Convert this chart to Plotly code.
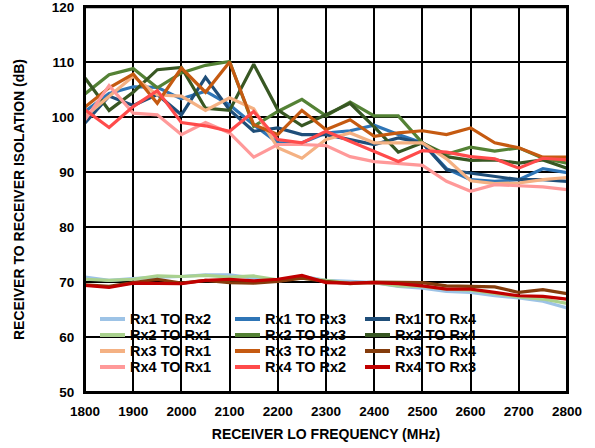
import plotly.graph_objects as go

freq = [1800, 1850, 1900, 1950, 2000, 2050, 2100, 2150, 2200, 2250, 2300,
        2350, 2400, 2450, 2500, 2550, 2600, 2650, 2700, 2750, 2800]

rx1_to_rx2 = [70.9, 70.3, 70.6, 70.9, 71.0, 71.3, 71.3, 70.7, 70.1, 71.0, 70.3,
              70.1, 69.9, 69.2, 68.9, 68.3, 68.1, 67.5, 67.1, 66.5, 65.3]
rx1_to_rx3 = [101.0, 104.3, 105.5, 105.4, 103.3, 104.7, 102.2, 98.6, 95.3, 95.3, 97.1,
              97.5, 98.5, 96.8, 95.3, 90.6, 88.6, 88.3, 88.6, 90.6, 89.9]
rx1_to_rx4 = [98.9, 103.8, 102.1, 104.1, 100.4, 107.2, 101.3, 97.4, 98.0, 96.8, 96.8,
              95.9, 95.0, 96.2, 95.3, 90.4, 89.8, 89.3, 88.6, 88.6, 88.3]
rx2_to_rx1 = [70.5, 70.3, 70.5, 71.1, 71.0, 71.2, 70.9, 71.1, 70.4, 70.7, 70.3,
              69.8, 69.9, 69.3, 69.2, 68.7, 68.5, 67.9, 67.3, 66.9, 66.1]
rx2_to_rx3 = [104.2, 107.7, 108.8, 105.3, 108.0, 109.4, 110.1, 98.3, 101.0, 103.2, 100.2,
              102.7, 100.2, 100.2, 95.3, 93.2, 94.5, 93.8, 94.4, 92.5, 91.6]
rx2_to_rx4 = [107.1, 101.2, 104.5, 108.6, 109.0, 101.6, 101.2, 109.6, 101.3, 98.4, 100.4,
              102.5, 98.2, 93.6, 95.3, 92.8, 92.1, 92.2, 91.6, 92.2, 90.7]
rx3_to_rx1 = [100.1, 103.8, 107.4, 104.0, 103.8, 101.2, 103.5, 101.5, 94.4, 92.5, 95.9,
              97.1, 95.3, 95.3, 95.3, 92.4, 88.4, 87.9, 88.0, 88.6, 89.0]
rx3_to_rx2 = [101.8, 105.3, 107.8, 102.5, 108.9, 104.5, 110.0, 98.6, 96.8, 101.2, 97.7,
              99.5, 96.5, 97.1, 97.5, 96.8, 98.0, 95.3, 94.4, 92.7, 92.7]
rx3_to_rx4 = [69.5, 69.2, 69.9, 70.5, 69.8, 70.3, 69.9, 69.8, 70.1, 70.7, 70.1,
              69.7, 70.0, 69.9, 69.9, 69.3, 69.2, 69.1, 68.1, 68.6, 67.9]
rx4_to_rx1 = [99.5, 105.7, 100.7, 100.4, 96.8, 99.0, 97.1, 92.7, 95.0, 95.0, 94.8,
              92.8, 91.9, 91.6, 91.2, 88.3, 86.5, 87.7, 87.5, 87.3, 86.8]
rx4_to_rx2 = [101.3, 98.1, 101.9, 104.8, 99.0, 98.4, 97.4, 101.0, 95.9, 95.3, 97.4,
              95.6, 93.8, 91.9, 93.9, 93.6, 92.8, 92.4, 90.7, 92.5, 92.2]
rx4_to_rx3 = [69.4, 69.0, 69.8, 69.8, 69.7, 70.3, 70.5, 70.2, 70.5, 71.2, 69.9,
              69.8, 69.9, 69.7, 69.3, 68.7, 68.7, 68.1, 67.5, 67.4, 66.9]

series_names = ["Rx1 TO Rx2", "Rx1 TO Rx3", "Rx1 TO Rx4",
                "Rx2 TO Rx1", "Rx2 TO Rx3", "Rx2 TO Rx4",
                "Rx3 TO Rx1", "Rx3 TO Rx2", "Rx3 TO Rx4",
                "Rx4 TO Rx1", "Rx4 TO Rx2", "Rx4 TO Rx3"]
series_values = [rx1_to_rx2, rx1_to_rx3, rx1_to_rx4,
                 rx2_to_rx1, rx2_to_rx3, rx2_to_rx4,
                 rx3_to_rx1, rx3_to_rx2, rx3_to_rx4,
                 rx4_to_rx1, rx4_to_rx2, rx4_to_rx3]
series_colors = ["#9DC3E6", "#2E75B6", "#1F4E79",
                 "#A9D18E", "#548235", "#385723",
                 "#F4B183", "#C55A11", "#843C0C",
                 "#FF9999", "#FF4B4B", "#C00000"]

x_ticks = [1800, 1900, 2000, 2100, 2200, 2300, 2400, 2500, 2600, 2700, 2800]
y_ticks = [50, 60, 70, 80, 90, 100, 110, 120]

FONT = "Liberation Sans, Arial, sans-serif"

fig = go.Figure()
for name, vals, col in zip(series_names, series_values, series_colors):
    fig.add_trace(go.Scatter(x=freq, y=vals, mode="lines", name=name,
                             line=dict(color=col, width=3.2), showlegend=False))

# Manual legend (3 columns x 4 rows) in paper coordinates
col_x = [(100, 125, 129), (235, 260, 264), (365, 390, 394)]
row_y = [319, 335, 351, 367]
PX0, PW, PY1, PH = 85.0, 482.0, 392.0, 385.0

def px(xp):
    return (xp - PX0) / PW

def py(yp):
    return (PY1 - yp) / PH

shapes = [dict(type="rect", xref="paper", yref="paper",
               x0=px(95), x1=px(493), y0=py(378), y1=py(308),
               fillcolor="white", line=dict(width=0), layer="between"),
          dict(type="rect", xref="paper", yref="paper", x0=0, x1=1, y0=0, y1=1,
               line=dict(color="black", width=2), layer="above"),
          dict(type="line", xref="paper", yref="paper", x0=0, x1=1, y0=1, y1=1,
               line=dict(color="black", width=2.5), layer="above")]
annotations = []
for i, (name, col) in enumerate(zip(series_names, series_colors)):
    r, c = divmod(i, 3)
    x0, x1, xt = col_x[c]
    yy = py(row_y[r])
    shapes.append(dict(type="line", xref="paper", yref="paper",
                       x0=px(x0), x1=px(x1), y0=yy, y1=yy,
                       line=dict(color=col, width=4), layer="above"))
    annotations.append(dict(xref="paper", yref="paper", x=px(xt), y=yy,
                            text=name, showarrow=False, xanchor="left",
                            yanchor="middle", borderpad=0,
                            font=dict(family=FONT, size=14.5, color="black",
                                      weight="bold")))

axis_common = dict(showgrid=True, gridcolor="black", gridwidth=1.5,
                   showline=True, linecolor="black", linewidth=2, mirror=True,
                   ticks="", zeroline=False, automargin=False,
                   ticklabeloverflow="allow",
                   tickfont=dict(family=FONT, size=13.5, color="black", weight="bold"))

fig.update_layout(
    width=595, height=448,
    margin=dict(l=85, r=28, t=7, b=56),
    paper_bgcolor="white", plot_bgcolor="white",
    font=dict(family=FONT, color="black"),
    shapes=shapes, annotations=annotations,
    xaxis=dict(range=[1800, 2800], tickvals=x_ticks, ticklabelstandoff=6,
               title=dict(text="RECEIVER LO FREQUENCY (MHz)", standoff=11,
                          font=dict(family=FONT, size=14, color="black", weight="bold")),
               **axis_common),
    yaxis=dict(range=[50, 120], tickvals=y_ticks, ticklabelstandoff=6,
               title=dict(text="RECEIVER TO RECEIVER ISOLATION (dB)", standoff=24,
                          font=dict(family=FONT, size=14, color="black", weight="bold")),
               **axis_common),
)

fig.write_html(
    "out.html",
    config={"displayModeBar": False},
    post_script="document.body.style.margin='0';document.body.style.padding='0';"
                "document.body.style.overflow='hidden';",
)
